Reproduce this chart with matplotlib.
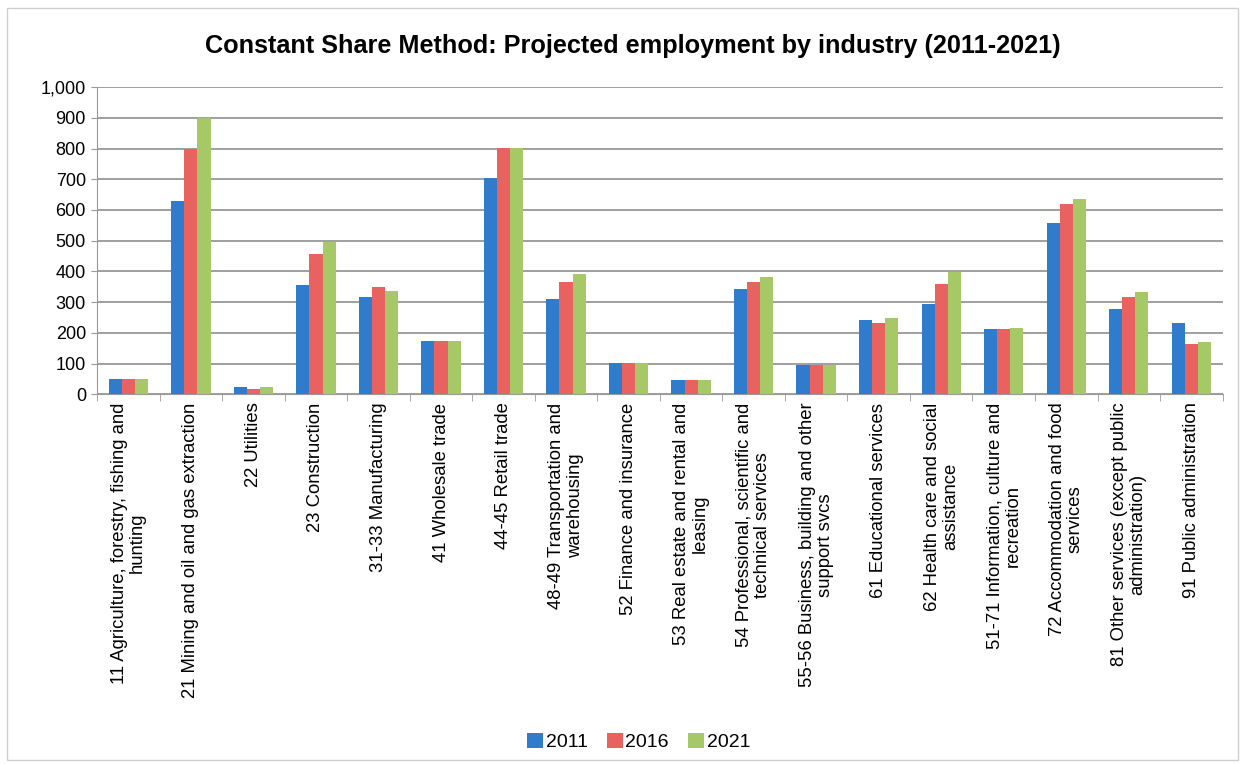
import matplotlib.pyplot as plt
import numpy as np

plt.rcParams['font.family'] = ['Liberation Sans', 'DejaVu Sans']

# Industry categories (NAICS groups), as labelled on the axis.
industries = [
    "11 Agriculture, forestry, fishing and\nhunting",
    "21 Mining and oil and gas extraction",
    "22 Utilities",
    "23 Construction",
    "31-33 Manufacturing",
    "41 Wholesale trade",
    "44-45 Retail trade",
    "48-49 Transportation and\nwarehousing",
    "52 Finance and insurance",
    "53 Real estate and rental and\nleasing",
    "54 Professional, scientific and\ntechnical services",
    "55-56 Business, building and other\nsupport svcs",
    "61 Educational services",
    "62 Health care and social\nassistance",
    "51-71 Information, culture and\nrecreation",
    "72 Accommodation and food\nservices",
    "81 Other services (except public\nadministration)",
    "91 Public administration",
]

years = ["2011", "2016", "2021"]

emp_2011 = [50, 630, 23, 355, 315, 174, 705, 311, 103, 47, 343, 94, 243, 295, 212, 557, 276, 231]
emp_2016 = [50, 800, 17, 456, 348, 174, 803, 364, 103, 47, 366, 94, 231, 358, 212, 619, 315, 163]
emp_2021 = [50, 898, 24, 495, 337, 174, 803, 393, 103, 47, 383, 94, 248, 398, 217, 636, 332, 169]

colors = ["#2f7bcc", "#e8625f", "#a6c866"]

fig = plt.figure(figsize=(12.45, 7.64), dpi=100)
ax = fig.add_axes([0.078, 0.484, 0.904, 0.402])

x = np.arange(len(industries))
w = 0.21
for i, (vals, c, lab) in enumerate(zip([emp_2011, emp_2016, emp_2021], colors, years)):
    ax.bar(x + (i - 1) * w, vals, width=w, color=c, label=lab, zorder=3)

ax.set_xlim(-0.5, len(industries) - 0.5)
ax.set_ylim(0, 1000)
ax.set_yticks(np.arange(0, 1001, 100))
ax.set_yticklabels([f"{v:,}" for v in range(0, 1001, 100)], fontsize=13)
ax.yaxis.grid(True, color="#858585", linewidth=1.1, zorder=0)
ax.tick_params(axis="y", length=4, color="#999999", pad=4)

ax.set_xticks(x)
ax.set_xticklabels(industries, rotation=90, fontsize=13.3, va="top",
                   ha="center", multialignment="center", linespacing=1.1)
ax.set_xticks(np.arange(-0.5, len(industries)), minor=True)
ax.tick_params(axis="x", which="major", length=0, pad=6)
ax.tick_params(axis="x", which="minor", length=5, color="#999999")

for s in ["top", "right"]:
    ax.spines[s].set_visible(False)
for s in ["left", "bottom"]:
    ax.spines[s].set_color("#999999")

fig.text(0.508, 0.94, "Constant Share Method: Projected employment by industry (2011-2021)",
         ha="center", va="center", fontsize=18.2, fontweight="bold")

fig.legend(loc="center", bbox_to_anchor=(0.513, 0.029), ncol=3, frameon=False,
           fontsize=14, handlelength=0.8, handleheight=0.8, handletextpad=0.15,
           columnspacing=1.0)

# light frame around the chart area
frame = plt.Rectangle((0.006, 0.005), 0.988, 0.985, transform=fig.transFigure,
                      fill=False, edgecolor="#cfcfcf", linewidth=1)
fig.patches.append(frame)

fig.savefig("out.png", dpi=100, facecolor="white")
